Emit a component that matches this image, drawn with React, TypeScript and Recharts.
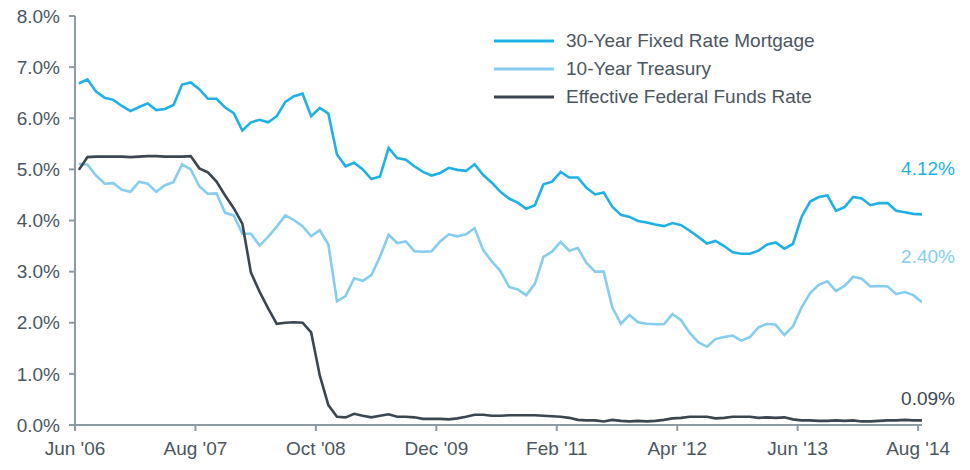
import React from 'react';
import { LineChart, Line, XAxis, YAxis } from 'recharts';

// Monthly, Jun 2006 .. Aug 2014 (99 months)
const tickLabels = ["Jun '06", "Aug '07", "Oct '08", "Dec '09", "Feb '11", "Apr '12", "Jun '13", "Aug '14"];
const yTicks = [0, 1, 2, 3, 4, 5, 6, 7, 8];
const seriesNames = ['30-Year Fixed Rate Mortgage', '10-Year Treasury', 'Effective Federal Funds Rate'];

const mortgage = [
  6.68, 6.76, 6.52, 6.40, 6.36, 6.24, 6.14,
  6.22, 6.29, 6.16, 6.18, 6.26, 6.66, 6.70, 6.57, 6.38, 6.38, 6.21, 6.10,
  5.76, 5.92, 5.97, 5.92, 6.04, 6.32, 6.43, 6.48, 6.04, 6.20, 6.09, 5.29,
  5.06, 5.13, 5.00, 4.81, 4.86, 5.42, 5.22, 5.19, 5.06, 4.95, 4.88, 4.93,
  5.03, 4.99, 4.97, 5.10, 4.89, 4.74, 4.56, 4.43, 4.35, 4.23, 4.30, 4.71,
  4.76, 4.95, 4.84, 4.84, 4.64, 4.51, 4.55, 4.27, 4.11, 4.07, 3.99, 3.96,
  3.92, 3.89, 3.95, 3.91, 3.80, 3.68, 3.55, 3.60, 3.50, 3.38, 3.35, 3.35,
  3.41, 3.53, 3.57, 3.45, 3.54, 4.07, 4.37, 4.46, 4.49, 4.19, 4.26, 4.46,
  4.43, 4.30, 4.34, 4.34, 4.19, 4.16, 4.13, 4.12,
];

const treasury = [
  5.11, 5.09, 4.88, 4.72, 4.73, 4.60, 4.56,
  4.76, 4.72, 4.56, 4.69, 4.75, 5.10, 5.00, 4.67, 4.52, 4.53, 4.15, 4.10,
  3.74, 3.74, 3.51, 3.68, 3.88, 4.10, 4.01, 3.89, 3.69, 3.81, 3.53, 2.42,
  2.52, 2.87, 2.82, 2.93, 3.29, 3.72, 3.56, 3.59, 3.40, 3.39, 3.40, 3.59,
  3.73, 3.69, 3.73, 3.85, 3.42, 3.20, 3.01, 2.70, 2.65, 2.54, 2.76, 3.29,
  3.39, 3.58, 3.41, 3.46, 3.17, 3.00, 3.00, 2.30, 1.98, 2.15, 2.01, 1.98,
  1.97, 1.97, 2.17, 2.05, 1.80, 1.62, 1.53, 1.68, 1.72, 1.75, 1.65, 1.72,
  1.91, 1.98, 1.96, 1.76, 1.93, 2.30, 2.58, 2.74, 2.81, 2.62, 2.72, 2.90,
  2.86, 2.71, 2.72, 2.71, 2.56, 2.60, 2.54, 2.40,
];

const fedFunds = [
  4.99, 5.24, 5.25, 5.25, 5.25, 5.25, 5.24,
  5.25, 5.26, 5.26, 5.25, 5.25, 5.25, 5.26, 5.02, 4.94, 4.76, 4.49, 4.24,
  3.94, 2.98, 2.61, 2.28, 1.98, 2.00, 2.01, 2.00, 1.81, 0.97, 0.39, 0.16,
  0.15, 0.22, 0.18, 0.15, 0.18, 0.21, 0.16, 0.16, 0.15, 0.12, 0.12, 0.12,
  0.11, 0.13, 0.16, 0.20, 0.20, 0.18, 0.18, 0.19, 0.19, 0.19, 0.19, 0.18,
  0.17, 0.16, 0.14, 0.10, 0.09, 0.09, 0.07, 0.10, 0.08, 0.07, 0.08, 0.07,
  0.08, 0.10, 0.13, 0.14, 0.16, 0.16, 0.16, 0.13, 0.14, 0.16, 0.16, 0.16,
  0.14, 0.15, 0.14, 0.15, 0.11, 0.09, 0.09, 0.08, 0.08, 0.09, 0.08, 0.09,
  0.07, 0.07, 0.08, 0.09, 0.09, 0.10, 0.09, 0.09,
];

const data = mortgage.map((m, i) => ({ i, mortgage: m, treasury: treasury[i], fed: fedFunds[i] }));

const FONT = '"Liberation Sans", Arial, Helvetica, sans-serif';
const TEXT = '#4b5661';
const AXIS = '#8d9ba5';
const C_MORT = '#1fb1e6';
const C_TREAS = '#86cdf0';
const C_FED = '#3b4650';

const TICK_SHIFT = -0.45;
const xTicks = tickLabels.map((_, k) => k * 14 + TICK_SHIFT);
const lastIndex = data.length - 1;

const makeEndLabel = (color: string, dy: number) => (props: any) => {
  const { x, y, index, value } = props;
  if (index !== lastIndex) return null;
  return (
    <text x={x + 33} y={y + dy} fill={color} fontSize={19} fontFamily={FONT} textAnchor="end">
      {Number(value).toFixed(2)}%
    </text>
  );
};

const legendItems = [
  { name: seriesNames[0], color: C_MORT },
  { name: seriesNames[1], color: C_TREAS },
  { name: seriesNames[2], color: C_FED },
];

const LegendBox = () => (
  <div style={{ position: 'absolute', left: 494, top: 26.5, fontFamily: FONT }}>
    {legendItems.map((it) => (
      <div key={it.name} style={{ display: 'flex', alignItems: 'center', height: 28.3 }}>
        <svg width={60} height={6} style={{ display: 'block' }}>
          <line x1={0} y1={3} x2={60} y2={3} stroke={it.color} strokeWidth={3} />
        </svg>
        <span style={{ marginLeft: 12, fontSize: 19, color: TEXT, whiteSpace: 'nowrap', lineHeight: '20px' }}>{it.name}</span>
      </div>
    ))}
  </div>
);

export default function App() {
  return (
    <div style={{ position: 'absolute', left: 0, top: 0, width: 970, height: 470, background: '#fff' }}>
      <LineChart width={970} height={470} data={data} margin={{ top: 16, right: 48, bottom: 15, left: 0 }}>
        <XAxis
          dataKey="i"
          type="number"
          domain={[TICK_SHIFT, 98]}
          allowDataOverflow
          ticks={xTicks}
          tickFormatter={(v: number) => tickLabels[Math.round((v - TICK_SHIFT) / 14)]}
          height={30}
          tickSize={6}
          tickMargin={11}
          axisLine={{ stroke: AXIS, strokeWidth: 2 }}
          tickLine={{ stroke: AXIS, strokeWidth: 2 }}
          tick={{ fill: TEXT, fontSize: 19, fontFamily: FONT }}
          interval={0}
        />
        <YAxis
          type="number"
          domain={[0, 8]}
          ticks={yTicks}
          tickFormatter={(v: number) => v.toFixed(1) + '%'}
          width={75}
          tickSize={6}
          tickMargin={9}
          axisLine={{ stroke: AXIS, strokeWidth: 2 }}
          tickLine={{ stroke: AXIS, strokeWidth: 2 }}
          tick={{ fill: TEXT, fontSize: 19, fontFamily: FONT }}
          interval={0}
        />
        <Line type="linear" dataKey="treasury" name={seriesNames[1]} stroke={C_TREAS} strokeWidth={2.6} dot={false} isAnimationActive={false} label={makeEndLabel(C_TREAS, -39)} />
        <Line type="linear" dataKey="fed" name={seriesNames[2]} stroke={C_FED} strokeWidth={2.6} dot={false} isAnimationActive={false} label={makeEndLabel(C_FED, -15)} />
        <Line type="linear" dataKey="mortgage" name={seriesNames[0]} stroke={C_MORT} strokeWidth={2.6} dot={false} isAnimationActive={false} label={makeEndLabel(C_MORT, -39)} />
      </LineChart>
      <LegendBox />
    </div>
  );
}
